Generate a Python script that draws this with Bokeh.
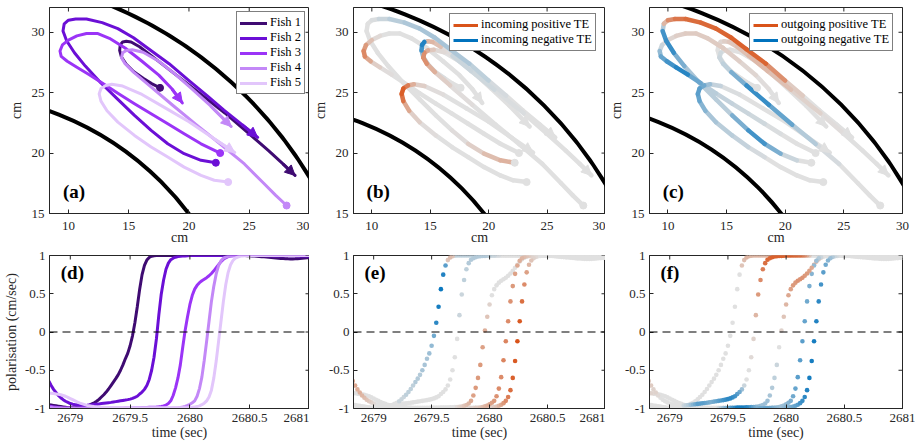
import numpy as np
from bokeh.plotting import figure
from bokeh.layouts import gridplot
from bokeh.models import (Range1d, Arrow, NormalHead, Label, Span, Legend,
                          LegendItem, FixedTicker)
from bokeh.embed import file_html
from bokeh.resources import INLINE

# ---------------- data ----------------
FISH_NAMES = ["Fish 1", "Fish 2", "Fish 3", "Fish 4", "Fish 5"]
FISH_COLORS = ["#3f0b72", "#6b0fd6", "#9b34f7", "#c388f7", "#e2c6fb"]

WALL_RADII = [25, 35]  # arena walls (cm), centred on the origin

# trajectories (cm), start dot -> arrow end
P1X = [17.6, 16.9, 16.2, 15.4, 14.8, 14.4, 14.25, 14.3, 14.5, 14.8, 15.2, 15.9, 16.9, 18.5, 20.5, 23.0, 25.0, 26.6, 27.8, 28.8]
P1Y = [25.4, 25.75, 26.2, 26.75, 27.35, 27.95, 28.5, 28.95, 29.2, 29.25, 29.2, 28.8, 28.05, 26.8, 25.25, 23.3, 21.6, 20.2, 19.1, 18.15]
P2X = [22.23, 21.0, 19.6, 18.24, 16.86, 15.48, 14.1, 12.7, 11.4, 10.5, 9.85, 9.55, 9.65, 10.0, 10.6, 11.5, 12.8, 14.1, 15.4, 16.7, 18.35, 20.0, 21.5, 22.9, 24.4, 25.7]
P2Y = [19.2, 19.4, 19.95, 20.77, 21.88, 23.12, 24.45, 25.8, 27.2, 28.3, 29.3, 30.1, 30.7, 31.0, 31.1, 31.1, 30.8, 30.3, 29.55, 28.6, 27.4, 26.0, 24.75, 23.55, 22.35, 21.3]
P3X = [22.59, 21.0, 19.6, 18.24, 16.86, 15.48, 14.1, 12.8, 11.7, 10.7, 9.9, 9.4, 9.3, 9.5, 10.0, 10.7, 11.5, 12.4, 13.4, 14.7, 16.1, 17.5, 18.6, 19.45]
P3Y = [20.0, 20.77, 21.6, 22.43, 23.26, 24.09, 24.95, 25.8, 26.5, 27.1, 27.6, 28.0, 28.45, 28.95, 29.35, 29.7, 29.9, 29.9, 29.5, 28.7, 27.6, 26.45, 25.3, 24.15]
P4X = [28.1, 27.2, 26.2, 24.6, 22.6, 20.6, 18.6, 16.7, 15.4, 14.7, 14.4, 14.5, 14.8, 15.3, 16.2, 17.5, 18.9, 20.2, 21.8, 23.5]
P4Y = [15.66, 16.5, 17.5, 19.1, 20.75, 22.35, 24.0, 25.6, 26.7, 27.4, 27.9, 28.3, 28.5, 28.55, 28.35, 27.6, 26.5, 25.35, 23.9, 22.2]
P5X = [23.25, 22.1, 21.0, 19.6, 18.24, 16.86, 15.48, 14.1, 13.2, 12.7, 12.55, 12.7, 13.1, 13.6, 14.5, 16.1, 18.1, 20.0, 22.0, 23.8]
P5Y = [17.6, 17.75, 18.15, 18.84, 19.67, 20.5, 21.46, 22.56, 23.5, 24.3, 24.9, 25.35, 25.6, 25.7, 25.55, 24.85, 23.7, 22.6, 21.25, 20.05]

# transfer entropy along each trajectory (positive -> orange, negative -> blue)
PIN1 = [0, 0, 0, -0.05, -0.1, -0.2, -0.5, -0.9, -0.8, 0.3, 0.3, 0.15, -0.1, -0.1, -0.05, 0, 0, 0, 0, 0]
PIN2 = [0.35, 0.3, 0.2, 0.05, 0, 0, 0, 0, 0, 0, 0, 0, 0, 0, -0.05, -0.15, -0.2, -0.25, -0.25, -0.25, -0.2, -0.1, 0, 0, 0, 0]
PIN3 = [0, 0, 0, 0, 0, 0, 0, 0, 0, 0.05, 0.2, 0.6, 0.65, 0.35, 0.1, 0, 0, 0, 0, 0, 0, 0, 0, 0]
PIN4 = [0, 0, 0, 0, 0, 0, 0, 0.05, 0.2, 0.5, 0.65, 0.5, 0.25, 0.1, 0, 0, 0, 0, 0, 0]
PIN5 = [0, 0, 0, 0, 0, 0, 0, 0.05, 0.2, 0.6, 0.95, 0.9, 0.5, 0.2, 0.05, 0, 0, 0, 0, 0]
POUT1 = [0, 0, 0, 0, 0, 0, 0, 0, 0.05, 0.1, 0.15, 0.2, 0.25, 0.3, 0.15, 0.05, 0, 0, 0, 0]
POUT2 = [0, 0, -0.2, -0.7, -0.7, -0.2, -0.15, -0.2, -0.3, -0.6, -0.9, -0.5, 0.1, 0.5, 0.7, 0.8, 0.85, 0.85, 0.9, 0.9, 0.85, 0.3, 0, 0, 0, 0]
POUT3 = [0, 0, 0, -0.05, -0.1, -0.1, -0.15, -0.2, -0.85, -0.8, -0.6, -0.5, -0.2, 0, 0.05, 0.1, 0.15, 0.15, 0.15, 0.15, 0.1, 0.05, 0, 0]
POUT4 = [0, 0, 0, 0, -0.1, -0.3, -0.8, -0.7, -0.2, -0.1, -0.1, -0.05, 0, 0, 0, 0, 0, 0, 0, 0]
POUT5 = [0, 0, 0, 0, 0, -0.1, -0.15, -0.2, -0.3, -0.5, -0.6, -0.6, -0.4, -0.2, -0.05, 0, 0, 0, 0, 0]

# polarisation time series (sampled every DT seconds from T0)
T0 = 2678.82
DT = 0.02
POL1 = [-0.95, -0.955, -0.96, -0.965, -0.97, -0.975, -0.98, -0.985, -0.99, -0.99,
        -0.99, -0.99, -0.985, -0.98, -0.975, -0.97, -0.965, -0.955, -0.94, -0.925,
        -0.905, -0.88, -0.85, -0.82, -0.785, -0.745, -0.70, -0.655, -0.61, -0.56,
        -0.50, -0.43, -0.35, -0.28, -0.18, -0.05, 0.12, 0.33, 0.56, 0.75,
        0.87, 0.94, 0.975, 0.99, 0.997, 1.0, 1.0, 1.0, 1.0, 1.0,
        1.0, 1.0, 1.0, 1.0, 1.0, 1.0, 1.0, 1.0, 1.0, 1.0,
        1.0, 1.0, 1.0, 1.0, 1.0, 1.0, 1.0, 1.0, 1.0, 1.0,
        1.0, 1.0, 1.0, 1.0, 1.0, 1.0, 1.0, 1.0, 1.0, 1.0,
        1.0, 1.0, 0.999, 0.998, 0.997, 0.995, 0.993, 0.99, 0.988, 0.985,
        0.982, 0.979, 0.976, 0.973, 0.97, 0.967, 0.964, 0.962, 0.96, 0.958,
        0.956, 0.955, 0.955, 0.956, 0.958, 0.96, 0.963, 0.966, 0.969, 0.972]
POL2 = [-0.64, -0.70, -0.75, -0.79, -0.83, -0.86, -0.885, -0.905, -0.92, -0.935,
        -0.945, -0.95, -0.955, -0.958, -0.96, -0.96, -0.958, -0.955, -0.952, -0.948,
        -0.944, -0.94, -0.936, -0.932, -0.928, -0.924, -0.92, -0.915, -0.91, -0.905,
        -0.90, -0.895, -0.89, -0.884, -0.877, -0.868, -0.855, -0.84, -0.81, -0.785,
        -0.75, -0.70, -0.62, -0.50, -0.33, -0.09, 0.22, 0.49, 0.68, 0.82,
        0.90, 0.945, 0.965, 0.978, 0.986, 0.99, 0.993, 0.995, 0.997, 1.0,
        1.0, 1.0, 1.0, 1.0, 1.0, 1.0, 1.0, 1.0, 1.0, 1.0,
        1.0, 1.0, 1.0, 1.0, 1.0, 1.0, 1.0, 1.0, 1.0, 1.0,
        1.0, 1.0, 1.0, 1.0, 1.0, 1.0, 1.0, 1.0, 1.0, 1.0,
        0.999, 0.998, 0.997, 0.996, 0.995, 0.995, 0.995, 0.996, 0.997, 0.998,
        0.998, 0.998, 0.997, 0.996, 0.995, 0.994, 0.993, 0.993, 0.993, 0.994]
POL3 = [-0.97, -0.975, -0.98, -0.985, -0.99, -0.99, -0.992, -0.994, -0.995, -0.996,
        -0.997, -0.997, -0.997, -0.997, -0.997, -0.997, -0.997, -0.997, -0.997, -0.997,
        -0.997, -0.997, -0.997, -0.997, -0.997, -0.997, -0.997, -0.997, -0.997, -0.997,
        -0.996, -0.996, -0.995, -0.994, -0.993, -0.992, -0.991, -0.99, -0.989, -0.988,
        -0.987, -0.986, -0.985, -0.984, -0.982, -0.98, -0.977, -0.973, -0.966, -0.955,
        -0.935, -0.90, -0.83, -0.73, -0.60, -0.43, -0.20, 0.02, 0.20, 0.36,
        0.48, 0.56, 0.61, 0.645, 0.67, 0.69, 0.71, 0.735, 0.765, 0.80,
        0.84, 0.88, 0.92, 0.95, 0.97, 0.985, 0.993, 0.998, 1.0, 1.0,
        1.0, 1.0, 1.0, 1.0, 1.0, 1.0, 1.0, 1.0, 1.0, 1.0,
        1.0, 1.0, 1.0, 1.0, 1.0, 1.0, 1.0, 1.0, 1.0, 1.0,
        1.0, 1.0, 1.0, 1.0, 1.0, 1.0, 1.0, 1.0, 1.0, 1.0]
POL4 = [-0.985, -0.987, -0.99, -0.992, -0.994, -0.995, -0.996, -0.997, -0.998, -0.998,
        -0.998, -0.998, -0.998, -0.998, -0.998, -0.998, -0.998, -0.998, -0.998, -0.998,
        -0.998, -0.998, -0.998, -0.998, -0.998, -0.998, -0.998, -0.998, -0.998, -0.998,
        -0.998, -0.998, -0.998, -0.998, -0.998, -0.998, -0.998, -0.998, -0.998, -0.998,
        -0.998, -0.998, -0.998, -0.998, -0.998, -0.998, -0.998, -0.998, -0.998, -0.998,
        -0.997, -0.996, -0.994, -0.992, -0.99, -0.986, -0.98, -0.972, -0.96, -0.945,
        -0.925, -0.90, -0.84, -0.74, -0.59, -0.37, -0.12, 0.14, 0.40, 0.60,
        0.76, 0.87, 0.93, 0.965, 0.98, 0.99, 0.995, 0.998, 1.0, 1.0,
        1.0, 1.0, 1.0, 1.0, 1.0, 1.0, 1.0, 1.0, 1.0, 1.0,
        1.0, 1.0, 1.0, 1.0, 1.0, 1.0, 1.0, 1.0, 1.0, 1.0,
        1.0, 1.0, 1.0, 1.0, 1.0, 1.0, 1.0, 1.0, 1.0, 1.0]
POL5 = [-0.80, -0.80, -0.805, -0.81, -0.815, -0.82, -0.83, -0.84, -0.855, -0.87,
        -0.885, -0.90, -0.915, -0.93, -0.94, -0.95, -0.96, -0.965, -0.97, -0.975,
        -0.978, -0.98, -0.982, -0.984, -0.986, -0.988, -0.99, -0.99, -0.99, -0.99,
        -0.99, -0.99, -0.99, -0.99, -0.99, -0.99, -0.99, -0.99, -0.99, -0.99,
        -0.99, -0.99, -0.99, -0.99, -0.99, -0.99, -0.99, -0.99, -0.99, -0.99,
        -0.99, -0.99, -0.99, -0.99, -0.99, -0.99, -0.99, -0.99, -0.99, -0.988,
        -0.985, -0.98, -0.975, -0.965, -0.95, -0.93, -0.90, -0.85, -0.76, -0.60,
        -0.38, -0.12, 0.14, 0.40, 0.62, 0.78, 0.88, 0.935, 0.965, 0.98,
        0.99, 0.995, 0.998, 1.0, 1.0, 1.0, 1.0, 1.0, 1.0, 1.0,
        1.0, 1.0, 1.0, 1.0, 1.0, 1.0, 1.0, 1.0, 1.0, 1.0,
        1.0, 1.0, 1.0, 1.0, 1.0, 1.0, 1.0, 1.0, 1.0, 1.0]

# incoming TE at each sample
IN1 = [0, 0, 0, 0, 0, 0, 0, 0, 0, 0,
       0, 0, 0, 0, 0, 0, 0, 0, 0, 0,
       -0.1, -0.1, -0.1, -0.15, -0.15, -0.15, -0.15, -0.2, -0.2, -0.2,
       -0.25, -0.25, -0.25, -0.3, -0.35, -0.5, -0.8, -0.9, -0.95, -0.85,
       -0.6, 0.2, 0.25, 0.2, -0.1, -0.15, -0.15, -0.15, -0.15, -0.15,
       -0.15, -0.15, -0.15, -0.15, -0.1, -0.1, -0.1, -0.1, -0.1, -0.1,
       -0.1, -0.1, -0.05, -0.05, 0, 0, 0, 0, 0, 0,
       0, 0, 0, 0, 0, 0, 0, 0, 0, 0,
       0, 0, 0, 0, 0, 0, 0, 0, 0, 0,
       0, 0, 0, 0, 0, 0, 0, 0, 0, 0,
       0, 0, 0, 0, 0, 0, 0, 0, 0, 0]
IN2 = [0.4, 0.4, 0.35, 0.35, 0.3, 0.25, 0.2, 0.15, 0.1, 0.05,
       0, 0, 0, 0, 0, 0, 0, 0, 0, 0,
       0, 0, 0, 0, 0, 0, 0, 0, 0, 0,
       0, 0, 0, 0, 0, 0, 0, 0, 0, 0,
       0, 0, 0, 0, 0, 0, -0.1, -0.1, -0.15, -0.15,
       -0.2, -0.2, -0.2, -0.2, -0.2, -0.2, -0.2, -0.2, -0.15, -0.15,
       -0.1, -0.1, -0.05, 0, 0, 0, 0, 0, 0, 0,
       0, 0, 0, 0, 0, 0, 0, 0, 0, 0,
       0, 0, 0, 0, 0, 0, 0, 0, 0, 0,
       0, 0, 0, 0, 0, 0, 0, 0, 0, 0,
       0, 0, 0, 0, 0, 0, 0, 0, 0, 0]
IN3 = [0, 0, 0, 0, 0, 0, 0, 0, 0, 0,
       0, 0, 0, 0, 0, 0, 0, 0, 0, 0,
       0, 0, 0, 0, 0, 0, 0, 0, 0, 0,
       0, 0, 0, 0, 0, 0, 0, 0, 0, 0,
       0, 0, 0, 0, 0, 0.05, 0.1, 0.15, 0.2, 0.25,
       0.3, 0.4, 0.45, 0.5, 0.5, 0.5, 0.45, 0.35, 0.2, 0.1,
       0, 0, 0, 0, 0, 0, 0, 0, 0, 0,
       0, 0, 0, 0, 0, 0, 0, 0, 0, 0,
       0, 0, 0, 0, 0, 0, 0, 0, 0, 0,
       0, 0, 0, 0, 0, 0, 0, 0, 0, 0,
       0, 0, 0, 0, 0, 0, 0, 0, 0, 0]
IN4 = [0, 0, 0, 0, 0, 0, 0, 0, 0, 0,
       0, 0, 0, 0, 0, 0, 0, 0, 0, 0,
       0, 0, 0, 0, 0, 0, 0, 0, 0, 0,
       0, 0, 0, 0, 0, 0, 0, 0, 0, 0,
       0, 0, 0, 0, 0, 0, 0, 0, 0, 0,
       0.05, 0.1, 0.1, 0.15, 0.15, 0.2, 0.25, 0.3, 0.35, 0.4,
       0.45, 0.5, 0.55, 0.6, 0.6, 0.65, 0.65, 0.6, 0.55, 0.5,
       0.45, 0.4, 0.35, 0.3, 0.25, 0.2, 0.15, 0.1, 0.05, 0,
       0, 0, 0, 0, 0, 0, 0, 0, 0, 0,
       0, 0, 0, 0, 0, 0, 0, 0, 0, 0,
       0, 0, 0, 0, 0, 0, 0, 0, 0, 0]
IN5 = [0, 0, 0, 0, 0, 0, 0, 0, 0, 0,
       0, 0, 0, 0, 0, 0, 0, 0, 0, 0,
       0, 0, 0, 0, 0, 0, 0, 0, 0, 0,
       0, 0, 0, 0, 0, 0, 0, 0, 0, 0,
       0, 0, 0, 0, 0, 0, 0, 0, 0, 0,
       0, 0, 0, 0, 0, 0, 0, 0, 0.05, 0.1,
       0.1, 0.15, 0.2, 0.3, 0.4, 0.5, 0.6, 0.7, 0.8, 0.9,
       0.95, 1.0, 0.95, 0.8, 0.6, 0.45, 0.3, 0.2, 0.1, 0.05,
       0, 0, 0, 0, 0, 0, 0, 0, 0, 0,
       0, 0, 0, 0, 0, 0, 0, 0, 0, 0,
       0, 0, 0, 0, 0, 0, 0, 0, 0, 0]

# outgoing TE at each sample
OUT1 = [0, 0, 0, 0, 0, 0, 0, 0, 0, 0,
        0, 0, 0, 0, 0, 0, 0, 0, 0, 0,
        0, 0, 0, 0, 0, 0, 0, 0, 0, 0,
        0, 0, 0, 0, 0, 0, 0, 0, 0, 0,
        0.2, 0.25, 0.3, 0.3, 0.3, 0.3, 0.3, 0.3, 0.3, 0.3,
        0.3, 0.3, 0.25, 0.25, 0.2, 0.2, 0.15, 0.1, 0.1, 0.05,
        0, 0, 0, 0, 0, 0, 0, 0, 0, 0,
        0, 0, 0, 0, 0, 0, 0, 0, 0, 0,
        0, 0, 0, 0, 0, 0, 0, 0, 0, 0,
        0, 0, 0, 0, 0, 0, 0, 0, 0, 0,
        0, 0, 0, 0, 0, 0, 0, 0, 0, 0]
OUT2 = [0.15, 0.15, 0.1, 0.1, 0.05, 0, 0, 0, 0, 0,
        0, 0, 0, 0, 0, -0.1, -0.15, -0.2, -0.3, -0.4,
        -0.5, -0.6, -0.6, -0.6, -0.55, -0.5, -0.45, -0.45, -0.5, -0.55,
        -0.6, -0.65, -0.7, -0.75, -0.8, -0.8, -0.75, -0.7, -0.6, -0.5,
        -0.3, -0.1, 0, 0, 0.05, 0.1, 0.3, 0.5, 0.6, 0.7,
        0.8, 0.85, 0.85, 0.9, 0.9, 0.9, 0.9, 0.9, 0.9, 0.9,
        0.9, 0.9, 0.85, 0.85, 0.8, 0.8, 0.7, 0.6, 0.4, 0.2,
        0, 0, 0, 0, 0, 0, 0, 0, 0, 0,
        0, 0, 0, 0, 0, 0, 0, 0, 0, 0,
        0, 0, 0, 0, 0, 0, 0, 0, 0, 0,
        0, 0, 0, 0, 0, 0, 0, 0, 0, 0]
OUT3 = [0, 0, 0, 0, 0, 0, 0, 0, 0, 0,
        0, 0, 0, 0, 0, 0, 0, 0, 0, 0,
        0, 0, 0, 0, 0, 0, 0, 0, 0, 0,
        -0.1, -0.2, -0.3, -0.4, -0.5, -0.6, -0.7, -0.8, -0.9, -0.9,
        -0.9, -0.85, -0.8, -0.7, -0.6, -0.5, -0.4, -0.35, -0.3, -0.3,
        -0.3, -0.3, -0.25, -0.2, -0.15, -0.1, 0, 0.1, 0.2, 0.3,
        0.4, 0.45, 0.5, 0.5, 0.55, 0.55, 0.55, 0.5, 0.5, 0.45,
        0.4, 0.35, 0.3, 0.2, 0.1, 0, 0, 0, 0, 0,
        0, 0, 0, 0, 0, 0, 0, 0, 0, 0,
        0, 0, 0, 0, 0, 0, 0, 0, 0, 0,
        0, 0, 0, 0, 0, 0, 0, 0, 0, 0]
OUT4 = [0, 0, 0, 0, 0, 0, 0, 0, 0, 0,
        0, 0, 0, 0, 0, 0, 0, 0, 0, 0,
        0, 0, 0, 0, 0, 0, 0, 0, 0, 0,
        0, 0, 0, 0, 0, 0, 0, 0, 0, 0,
        -0.1, -0.15, -0.2, -0.25, -0.3, -0.35, -0.4, -0.45, -0.5, -0.5,
        -0.55, -0.55, -0.5, -0.45, -0.4, -0.35, -0.3, -0.3, -0.3, -0.35,
        -0.4, -0.45, -0.5, -0.55, -0.6, -0.6, -0.6, -0.55, -0.5, -0.45,
        -0.4, -0.35, -0.3, -0.2, -0.1, 0, 0, 0, 0, 0,
        0, 0, 0, 0, 0, 0, 0, 0, 0, 0,
        0, 0, 0, 0, 0, 0, 0, 0, 0, 0,
        0, 0, 0, 0, 0, 0, 0, 0, 0, 0]
OUT5 = [0.1, 0.1, 0.05, 0, 0, 0, 0, 0, 0, 0,
        0, 0, 0, 0, 0, 0, 0, 0, 0, 0,
        0, 0, 0, 0, 0, 0, 0, 0, 0, 0,
        0, 0, 0, 0, 0, 0, 0, 0, 0, 0,
        0, 0, 0, 0, 0, 0, 0, 0, 0, 0,
        -0.05, -0.1, -0.1, -0.15, -0.2, -0.25, -0.3, -0.3, -0.35, -0.4,
        -0.4, -0.45, -0.5, -0.55, -0.6, -0.7, -0.75, -0.8, -0.85, -0.9,
        -0.9, -0.9, -0.85, -0.8, -0.7, -0.6, -0.5, -0.4, -0.3, -0.2,
        -0.1, -0.05, 0, 0, 0, 0, 0, 0, 0, 0,
        0, 0, 0, 0, 0, 0, 0, 0, 0, 0,
        0, 0, 0, 0, 0, 0, 0, 0, 0, 0]

XY_XTICKS = [10, 15, 20, 25, 30]
XY_YTICKS = [15, 20, 25, 30]
T_TICKS = [2679, 2679.5, 2680, 2680.5, 2681]
T_LABELS = ["2679", "2679.5", "2680", "2680.5", "2681"]
P_TICKS = [-1, -0.5, 0, 0.5, 1]
P_LABELS = ["-1", "-0.5", "0", "0.5", "1"]

PATHS = [(P1X, P1Y), (P2X, P2Y), (P3X, P3Y), (P4X, P4Y), (P5X, P5Y)]
PATH_IN = [PIN1, PIN2, PIN3, PIN4, PIN5]
PATH_OUT = [POUT1, POUT2, POUT3, POUT4, POUT5]
POLS = [POL1, POL2, POL3, POL4, POL5]
INS = [IN1, IN2, IN3, IN4, IN5]
OUTS = [OUT1, OUT2, OUT3, OUT4, OUT5]

# ---------------- style ----------------
FONT = "Liberation Serif"
AXC = "#262626"
ORANGE = (217, 83, 25)
BLUE = (0, 114, 189)
GREY = (224, 224, 224)
GREY_HEX = "#e0e0e0"
TICK_FS = "13px"
LABEL_FS = "14px"
LEGEND_FS = "12.5px"


def te_color(v):
    a = min(abs(v), 1.0)
    tgt = ORANGE if v > 0 else BLUE
    return "#%02x%02x%02x" % tuple(int(round(b + (t - b) * a)) for b, t in zip(GREY, tgt))


def hex_rgb(c):
    return "#%02x%02x%02x" % c


def style_axis(ax, ticks, labels, label_text, label_standoff, axis_standoff):
    ax.ticker = FixedTicker(ticks=ticks)
    ax.major_label_overrides = {t: l for t, l in zip(ticks, labels)}
    ax.minor_tick_line_color = None
    ax.major_tick_in = 4
    ax.major_tick_out = 0
    ax.axis_line_color = AXC
    ax.major_tick_line_color = AXC
    ax.major_label_text_font = FONT
    ax.major_label_text_font_size = TICK_FS
    ax.major_label_text_color = AXC
    ax.major_label_standoff = label_standoff
    if label_text:
        ax.axis_label = label_text
    ax.axis_label_text_font = FONT
    ax.axis_label_text_font_size = LABEL_FS
    ax.axis_label_text_font_style = "normal"
    ax.axis_label_text_color = AXC
    ax.axis_label_standoff = axis_standoff


def mirror_ticks(p, xticks, yticks, xmax, ymax):
    # box-style ticks on the top and right edges, half clipped by the frame
    p.scatter(x=xticks, y=[ymax] * len(xticks), marker="dash", angle=np.pi / 2, size=8,
              line_color=AXC, line_width=1)
    p.scatter(x=[xmax] * len(yticks), y=yticks, marker="dash", size=8,
              line_color=AXC, line_width=1)


def make_fig(width, height, xr, yr, bl, br, bt, bb):
    p = figure(width=width, height=height, x_range=xr, y_range=yr,
               output_backend="svg", toolbar_location=None,
               min_border_left=bl, min_border_right=br, min_border_top=bt, min_border_bottom=bb)
    p.xgrid.visible = False
    p.ygrid.visible = False
    p.outline_line_color = AXC
    p.outline_line_width = 1
    p.background_fill_color = "white"
    p.border_fill_color = "white"
    return p


def panel_label(p, x, y, text):
    p.add_layout(Label(x=x, y=y, text=text, text_font=FONT, text_font_style="bold",
                       text_font_size="19px", text_baseline="middle", text_color="black"))


# (width, left border, right border) per column; frames at x 48-309, 345-605, 642-902
COLS = [(309, 48, 0), (296, 36, 0), (310, 37, 13)]
TOP_H, TOP_BT, TOP_BB = 248, 7, 35     # frame y 7-213
BOT_H, BOT_BT, BOT_BB = 195, 7, 35     # frame y 255-408
XY_X = (8.43, 30.0)
XY_Y = (15, 32.05)
T_X = (2678.826, 2681.0)
P_Y = (-1, 1)

# ---------------- top row ----------------
tops = []
for c, (w, bl, br) in enumerate(COLS):
    p = make_fig(w, TOP_H, Range1d(*XY_X), Range1d(*XY_Y), bl, br, TOP_BT, TOP_BB)
    style_axis(p.xaxis[0], XY_XTICKS, [str(t) for t in XY_XTICKS], "cm", 8, -3)
    style_axis(p.yaxis[0], XY_YTICKS, [str(t) for t in XY_YTICKS], "cm", 5, 5)
    p.arc(x=[0] * len(WALL_RADII), y=[0] * len(WALL_RADII), radius=WALL_RADII,
          start_angle=0, end_angle=np.pi / 2, line_color="black", line_width=4)
    tops.append(p)

pa, pb, pc = tops

# (a) coloured trajectories
items = []
for k, (xs, ys) in enumerate(PATHS):
    col = FISH_COLORS[k]
    r = pa.line(xs, ys, line_color=col, line_width=3, line_cap="round", line_join="round")
    pa.scatter([xs[0]], [ys[0]], size=7, fill_color=col, line_color=col)
    pa.add_layout(Arrow(end=NormalHead(size=10, fill_color=col, line_color=col),
                        x_start=xs[-2], y_start=ys[-2], x_end=xs[-1], y_end=ys[-1],
                        line_color=col, line_width=3))
    items.append(LegendItem(label=FISH_NAMES[k], renderers=[r]))

# (b), (c) TE coloured trajectories
for p, te_sets in ((pb, PATH_IN), (pc, PATH_OUT)):
    segs = []
    for k, (xs, ys) in enumerate(PATHS):
        te = te_sets[k]
        for j in range(len(xs) - 1):
            v = 0.5 * (te[j] + te[j + 1])
            segs.append((abs(v), [xs[j], xs[j + 1]], [ys[j], ys[j + 1]], te_color(v)))
    segs.sort(key=lambda s: s[0])
    p.multi_line([s[1] for s in segs], [s[2] for s in segs], line_color=[s[3] for s in segs],
                 line_width=4.5, line_cap="round", line_join="round")
    for k, (xs, ys) in enumerate(PATHS):
        p.scatter([xs[0]], [ys[0]], size=7, fill_color=GREY_HEX, line_color=GREY_HEX)
        p.add_layout(Arrow(end=NormalHead(size=10, fill_color=GREY_HEX, line_color=GREY_HEX),
                           x_start=xs[-2], y_start=ys[-2], x_end=xs[-1], y_end=ys[-1],
                           line_color=None))


def add_legend(p, its, loc, glyph_w):
    lg = Legend(items=its, location=loc, label_text_font=FONT, label_text_font_size=LEGEND_FS,
                label_text_color="black", border_line_color="black", border_line_width=1,
                background_fill_color="white", background_fill_alpha=1.0,
                padding=3, spacing=0, margin=0, label_height=14, glyph_height=14,
                glyph_width=glyph_w, label_standoff=3)
    p.add_layout(lg)


add_legend(pa, items, (187, 119), 27)
# legend keys for the TE colours (single-point lines draw nothing in the plot area)
rbp = pb.line(x=[P1X[0]], y=[P1Y[0]], line_color=hex_rgb(ORANGE), line_width=3)
rbn = pb.line(x=[P1X[0]], y=[P1Y[0]], line_color=hex_rgb(BLUE), line_width=3)
add_legend(pb, [LegendItem(label="incoming positive TE", renderers=[rbp]),
                LegendItem(label="incoming negative TE", renderers=[rbn])], (96, 162), 25)
rcp = pc.line(x=[P1X[0]], y=[P1Y[0]], line_color=hex_rgb(ORANGE), line_width=3)
rcn = pc.line(x=[P1X[0]], y=[P1Y[0]], line_color=hex_rgb(BLUE), line_width=3)
add_legend(pc, [LegendItem(label="outgoing positive TE", renderers=[rcp]),
                LegendItem(label="outgoing negative TE", renderers=[rcn])], (100, 162), 25)

for p, lab in zip(tops, ["(a)", "(b)", "(c)"]):
    mirror_ticks(p, XY_XTICKS, XY_YTICKS, XY_X[1], XY_Y[1])
    panel_label(p, 9.55, 16.85, lab)

# ---------------- bottom row ----------------
times = [[round(T0 + DT * i, 3) for i in range(len(pol))] for pol in POLS]
bots = []
for c, (w, bl, br) in enumerate(COLS):
    p = make_fig(w, BOT_H, Range1d(*T_X), Range1d(*P_Y), bl, br, BOT_BT, BOT_BB)
    style_axis(p.xaxis[0], T_TICKS, T_LABELS, "time (sec)", 5, 0)
    style_axis(p.yaxis[0], P_TICKS, P_LABELS, "polarisation (cm/sec)" if c == 0 else "", 4, 3)
    p.add_layout(Span(location=0, dimension="width", line_color="black",
                      line_dash="8 5", line_width=1.2))
    bots.append(p)

pd_, pe, pf = bots
for k in range(5):
    pd_.line(times[k], POLS[k], line_color=FISH_COLORS[k], line_width=3)

for p, te_sets in ((pe, INS), (pf, OUTS)):
    pts = []
    for k in range(5):
        for t, v, e in zip(times[k], POLS[k], te_sets[k]):
            pts.append((abs(e), t, v, te_color(e)))
    pts.sort(key=lambda s: s[0])
    p.scatter([s[1] for s in pts], [s[2] for s in pts], size=4.6,
              fill_color=[s[3] for s in pts], line_color=None)

for p, lab in zip(bots, ["(d)", "(e)", "(f)"]):
    mirror_ticks(p, T_TICKS, P_TICKS, T_X[1], P_Y[1])
    panel_label(p, 2678.92, 0.78, lab)

grid = gridplot([[pa, pb, pc], [pd_, pe, pf]], toolbar_location=None)
open("out.html", "w").write(file_html(grid, INLINE))
